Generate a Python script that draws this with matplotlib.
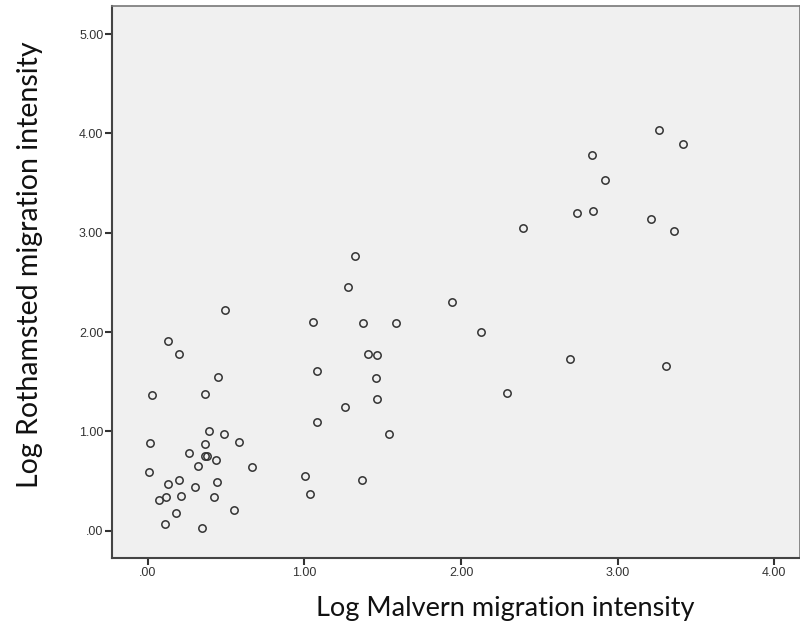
import matplotlib.pyplot as plt
from matplotlib.ticker import FuncFormatter

# Log migration intensities at the two sites
malvern = [0.495, 0.127, 0.197, 0.450, 0.025, 0.365, 0.393, 0.489, 0.012, 0.363,
           0.584, 0.265, 0.363, 0.376, 0.436, 0.321, 0.663, 0.010, 0.131, 0.201,
           0.299, 0.442, 0.073, 0.118, 0.212, 0.423, 0.180, 0.553, 0.112, 0.348,
           1.281, 1.055, 1.374, 1.585, 1.408, 1.466, 1.078, 1.457, 1.257, 1.462,
           1.083, 1.538, 1.002, 1.366, 1.036, 1.321,
           1.940, 2.128, 2.698, 3.309, 2.292,
           3.264, 3.418, 2.837, 2.922, 2.739, 2.841, 3.211, 3.362, 2.394]
rothamsted = [2.222, 1.910, 1.783, 1.548, 1.370, 1.373, 1.004, 0.974, 0.883, 0.873,
              0.890, 0.779, 0.752, 0.752, 0.709, 0.655, 0.645, 0.588, 0.470, 0.514,
              0.443, 0.490, 0.309, 0.336, 0.346, 0.336, 0.181, 0.211, 0.071, 0.030,
              2.451, 2.105, 2.092, 2.092, 1.780, 1.769, 1.608, 1.538, 1.249, 1.323,
              1.091, 0.971, 0.551, 0.511, 0.366, 2.770,
              2.306, 2.004, 1.729, 1.662, 1.383,
              4.038, 3.894, 3.780, 3.532, 3.203, 3.216, 3.139, 3.021, 3.045]
ticks = [0, 1, 2, 3, 4]
yticks = [0, 1, 2, 3, 4, 5]

fig = plt.figure(figsize=(8, 6.37), dpi=100)
ax = fig.add_axes([0.1404, 0.1235, 0.8596, 0.8671])
ax.set_facecolor('#f0f0f0')

ax.plot(malvern, rothamsted, 'o', ms=5.3, mfc='none', mec='#333333', mew=1.1)

ax.set_xlim(-0.227, 4.165)
ax.set_ylim(-0.278, 5.284)
ax.set_xticks(ticks)
ax.set_yticks(yticks)

fmt = FuncFormatter(lambda v, p: '.00' if v == 0 else '%.2f' % v)
ax.xaxis.set_major_formatter(fmt)
ax.yaxis.set_major_formatter(fmt)
ax.tick_params(direction='out', length=5, width=1.5, color='#333333',
               labelsize=9, labelcolor='#333333', pad=1.5)
for lab in ax.get_xticklabels() + ax.get_yticklabels():
    lab.set_family('Liberation Sans')

for side in ['left', 'bottom']:
    ax.spines[side].set_color('#444444')
    ax.spines[side].set_linewidth(1.5)
for side in ['top', 'right']:
    ax.spines[side].set_color('#777777')
    ax.spines[side].set_linewidth(1.2)

fig.text(0.632, 0.045, 'Log Malvern migration intensity', ha='center', va='center',
         fontsize=19.5, family='Lato', color='#111111')
fig.text(0.037, 0.584, 'Log Rothamsted migration intensity', ha='center', va='center',
         rotation=90, fontsize=20.5, family='Lato', color='#111111')

fig.savefig('out.png', dpi=100)
